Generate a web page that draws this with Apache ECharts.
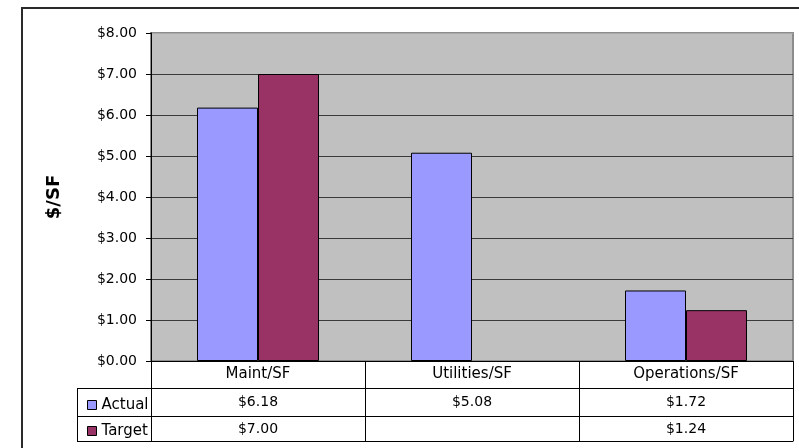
<!DOCTYPE html>
<html>
<head>
<meta charset="utf-8">
<script src="https://cdn.jsdelivr.net/npm/echarts@6/dist/echarts.min.js"></script>
<style>html,body{margin:0;padding:0;background:#fff;}#chart{width:799px;height:448px;}</style>
</head>
<body>
<div id="chart"></div>
<script>
const categories = ['Maint/SF', 'Utilities/SF', 'Operations/SF'];
const actualValues = [6.18, 5.08, 1.72];
const targetValues = [7.00, null, 1.24];
const seriesNames = ['Actual', 'Target'];
const yTicks = [0, 1, 2, 3, 4, 5, 6, 7, 8];

const FONT = 'DejaVu Sans';
const money = v => (v == null ? '' : '$' + v.toFixed(2));
const chart = echarts.init(document.getElementById('chart'), null, { renderer: 'canvas' });

const splitColors = yTicks.map((t, i) => (i === yTicks.length - 1 ? '#a8a8a8' : '#3a3a3a'));

const tableAxis = (offset, labels, margin) => ({
  type: 'category',
  gridIndex: 0,
  position: 'bottom',
  offset: offset,
  data: categories,
  axisLine: { show: true, lineStyle: { color: '#000', width: 1 } },
  axisTick: { show: false },
  splitLine: { show: false },
  axisLabel: {
    show: labels != null,
    interval: 0,
    margin: margin,
    verticalAlign: 'middle',
    color: '#000',
    fontFamily: FONT,
    fontSize: 14,
    formatter: (v, i) => (labels ? money(labels[i]) : '')
  }
});

const option = {
  animation: false,
  backgroundColor: '#fff',
  grid: {
    left: 151, top: 33, right: 6, bottom: 87,
    show: true, backgroundColor: '#C0C0C0',
    borderColor: '#8c8c8c', borderWidth: 2
  },
  legend: {
    data: seriesNames,
    orient: 'vertical',
    left: 82,
    top: 392,
    itemWidth: 9,
    itemHeight: 9,
    itemGap: 10,
    icon: 'rect',
    selectedMode: false,
    itemStyle: { borderColor: '#000', borderWidth: 1 },
    textStyle: { fontFamily: FONT, fontSize: 15, color: '#000', lineHeight: 16 }
  },
  xAxis: [
    {
      type: 'category',
      gridIndex: 0,
      position: 'bottom',
      data: categories,
      axisLine: { show: true, lineStyle: { color: '#000', width: 1 } },
      axisTick: { show: true, length: 80, lineStyle: { color: '#000', width: 1 } },
      axisLabel: {
        interval: 0, margin: 13.5, verticalAlign: 'middle',
        color: '#000', fontFamily: FONT, fontSize: 15
      }
    },
    tableAxis(27, actualValues, 14),
    tableAxis(55, targetValues, 13),
    tableAxis(80, null, 0)
  ],
  yAxis: {
    type: 'value',
    min: 0, max: 8, interval: 1,
    name: '$/SF',
    nameLocation: 'middle',
    nameGap: 88,
    nameTextStyle: { fontFamily: FONT, fontSize: 18, fontWeight: 'bold', color: '#000' },
    axisLine: { show: true, lineStyle: { color: '#000', width: 1 } },
    axisTick: { show: true, length: 5, lineStyle: { color: '#000' } },
    axisLabel: { margin: 14, color: '#000', fontFamily: FONT, fontSize: 14, formatter: v => money(v) },
    splitLine: { show: true, lineStyle: { color: splitColors, width: 1 } }
  },
  series: [
    {
      name: seriesNames[0], type: 'bar', data: actualValues,
      barGap: '0%', barCategoryGap: '43%',
      itemStyle: { color: '#9999FF', borderColor: '#000', borderWidth: 1 }
    },
    {
      name: seriesNames[1], type: 'bar', data: targetValues,
      barGap: '0%', barCategoryGap: '43%',
      itemStyle: { color: '#993366', borderColor: '#000', borderWidth: 1 }
    }
  ],
  graphic: [
    { type: 'rect', silent: true, shape: { x: 22, y: 8, width: 900, height: 600 },
      style: { fill: 'none', stroke: '#2a2a2a', lineWidth: 2 } },
    { type: 'line', silent: true, shape: { x1: 77, y1: 388.5, x2: 151, y2: 388.5 }, style: { stroke: '#000', lineWidth: 1 } },
    { type: 'line', silent: true, shape: { x1: 77, y1: 416.5, x2: 151, y2: 416.5 }, style: { stroke: '#000', lineWidth: 1 } },
    { type: 'line', silent: true, shape: { x1: 77, y1: 441.5, x2: 151, y2: 441.5 }, style: { stroke: '#000', lineWidth: 1 } },
    { type: 'line', silent: true, shape: { x1: 77.5, y1: 388, x2: 77.5, y2: 442 }, style: { stroke: '#000', lineWidth: 1 } }
  ]
};
chart.setOption(option);
</script>
</body>
</html>
